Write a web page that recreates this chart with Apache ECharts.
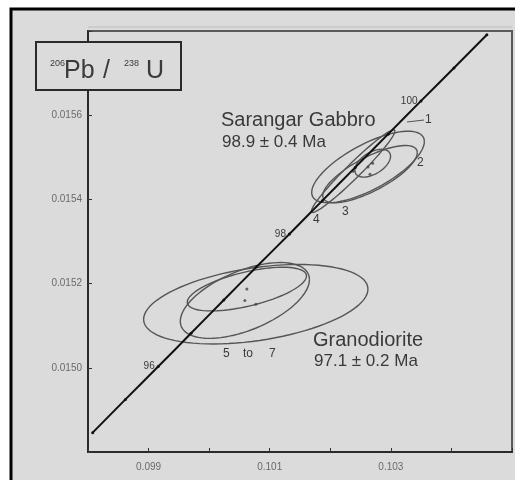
<!DOCTYPE html>
<html>
<head>
<meta charset="utf-8">
<script src="https://cdn.jsdelivr.net/npm/echarts@6/dist/echarts.min.js"></script>
<style>
html,body{margin:0;padding:0;background:#ffffff;}
#c{width:515px;height:480px;}
</style>
</head>
<body>
<div id="c"></div>
<script>
// Concordia curve points (age in Ma, 207Pb/235U, 206Pb/238U)
var concordiaAge = [95, 95.5, 96, 96.5, 97, 97.5, 98, 98.5, 99, 99.5, 100, 100.5, 101];
var concordiaX = [0.098077, 0.098618, 0.099159, 0.099701, 0.100242, 0.100784, 0.101326, 0.101869, 0.102412, 0.102955, 0.103498, 0.104041, 0.104585];
var concordiaY = [0.014846, 0.014925, 0.015003, 0.015082, 0.015161, 0.015240, 0.015318, 0.015397, 0.015476, 0.015555, 0.015634, 0.015712, 0.015791];
var labelledAges = [96, 98, 100];

// Error ellipses: spot id, centre (x,y), half extents (sx, sy), correlation
var ellipseId = ['1', '2', '3', '4', '5', '6', '7'];
var ellipseCx = [0.102623, 0.102656, 0.102700, 0.102377, 0.100770, 0.100590, 0.100623];
var ellipseCy = [0.015477, 0.015460, 0.015486, 0.015467, 0.015151, 0.015160, 0.015187];
var ellipseSx = [0.000930, 0.000780, 0.000295, 0.000689, 0.001852, 0.001066, 0.000984];
var ellipseSy = [0.0000850, 0.0000680, 0.0000330, 0.0000980, 0.0000944, 0.0000900, 0.0000519];
var ellipseRho = [0.71, 0.75, 0.5, 0.97, 0.38, 0.55, 0.6];

// Axis ticks
var xMin = 0.098, xMax = 0.105, xStep = 0.001;
var yMin = 0.0148, yMax = 0.0158, yStep = 0.0002;
var xTickLabels = ['0.099', '0.101', '0.103'];
var yTickLabels = ['0.0150', '0.0152', '0.0154', '0.0156'];

var concordiaData = concordiaAge.map(function (a, i) { return [concordiaX[i], concordiaY[i], a]; });
var ellipseData = ellipseId.map(function (id, i) {
  return [ellipseCx[i], ellipseCy[i], ellipseSx[i], ellipseSy[i], ellipseRho[i]];
});
var centreData = ellipseId.map(function (id, i) { return [ellipseCx[i], ellipseCy[i]]; });

var chart = echarts.init(document.getElementById('c'));
var FONT = 'Liberation Sans';
var TXT = '#3a3a3a';

function txt(x, y, s, size, align) {
  return { type: 'text', z: 101, silent: true,
    style: { x: x, y: y, text: s, fontSize: size, fontFamily: FONT, fill: TXT,
      align: align || 'left', verticalAlign: 'middle' } };
}

var option = {
  backgroundColor: 'transparent',
  animation: false,
  grid: { left: 88, top: 31, right: 3, bottom: 28, show: true, borderColor: '#5a5a5a', borderWidth: 2, backgroundColor: 'transparent' },
  xAxis: {
    type: 'value', min: xMin, max: xMax, interval: xStep,
    axisLine: { show: true, onZero: false, lineStyle: { color: '#2a2a2a', width: 2 } },
    axisTick: { show: true, inside: true, length: 4, lineStyle: { color: '#333' } },
    splitLine: { show: false },
    axisLabel: {
      color: '#6a6a6a', fontFamily: FONT, fontSize: 10, margin: 10,
      formatter: function (v) { var s = v.toFixed(3); return xTickLabels.indexOf(s) >= 0 ? s : ''; }
    }
  },
  yAxis: {
    type: 'value', min: yMin, max: yMax, interval: yStep,
    axisLine: { show: true, onZero: false, lineStyle: { color: '#2a2a2a', width: 2 } },
    axisTick: { show: true, inside: true, length: 4, lineStyle: { color: '#333' } },
    splitLine: { show: false },
    axisLabel: {
      color: '#6a6a6a', fontFamily: FONT, fontSize: 10, margin: 6,
      formatter: function (v) { var s = v.toFixed(4); return yTickLabels.indexOf(s) >= 0 ? s : ''; }
    }
  },
  series: [
    {
      type: 'custom',
      name: 'ellipses',
      clip: true,
      data: ellipseData,
      encode: { x: 0, y: 1 },
      z: 3,
      renderItem: function (params, api) {
        var cx = api.value(0), cy = api.value(1), sx = api.value(2), sy = api.value(3), r = api.value(4);
        var q = Math.sqrt(1 - r * r);
        var pts = [];
        for (var k = 0; k <= 90; k++) {
          var t = 2 * Math.PI * k / 90;
          pts.push(api.coord([cx + sx * Math.cos(t), cy + sy * (r * Math.cos(t) + q * Math.sin(t))]));
        }
        return { type: 'polyline', shape: { points: pts }, style: { fill: null, stroke: '#555', lineWidth: 1.4 } };
      }
    },
    {
      type: 'scatter', name: 'centres', data: centreData, symbolSize: 3,
      itemStyle: { color: '#444' }, z: 4, silent: true
    },
    {
      type: 'line', name: 'concordia', data: concordiaData, smooth: true,
      lineStyle: { color: '#111', width: 2 },
      symbol: 'circle', symbolSize: 3, itemStyle: { color: '#111' },
      z: 5,
      label: {
        show: true, position: 'left', distance: 2, color: TXT, fontFamily: FONT, fontSize: 10,
        formatter: function (p) { return labelledAges.indexOf(p.value[2]) >= 0 ? String(p.value[2]) : ''; }
      }
    }
  ],
  graphic: [
    { type: 'rect', z: -100, silent: true, shape: { x: 11, y: 9, width: 600, height: 600 },
      style: { fill: '#dbdbdb', stroke: '#000', lineWidth: 3 } },
    { type: 'line', z: -50, silent: true, shape: { x1: 88, y1: 27, x2: 512, y2: 27 }, style: { stroke: '#bdbdbd', lineWidth: 1 } },
    { type: 'rect', z: 100, shape: { x: 36, y: 42, width: 145, height: 48 },
      style: { fill: '#dbdbdb', stroke: '#2a2a2a', lineWidth: 2 } },
    txt(50, 64, '206', 9),
    txt(64, 71, 'Pb', 25),
    txt(103, 71, '/', 25),
    txt(124, 64, '238', 9),
    txt(146, 71, 'U', 25),
    txt(221, 120, 'Sarangar Gabbro', 20),
    txt(222, 142, '98.9 ± 0.4 Ma', 17),
    txt(313, 340, 'Granodiorite', 20),
    txt(314, 361, '97.1 ± 0.2 Ma', 17),
    txt(223, 354, '5', 12),
    txt(243, 354, 'to', 12),
    txt(269, 354, '7', 12),
    { type: 'line', z: 101, shape: { x1: 407, y1: 122, x2: 424, y2: 120 }, style: { stroke: '#555', lineWidth: 1.2 } },
    txt(425, 120, '1', 12),
    txt(417, 163, '2', 12),
    txt(342, 212, '3', 12),
    txt(313, 220, '4', 12)
  ]
};
chart.setOption(option);
</script>
</body>
</html>
